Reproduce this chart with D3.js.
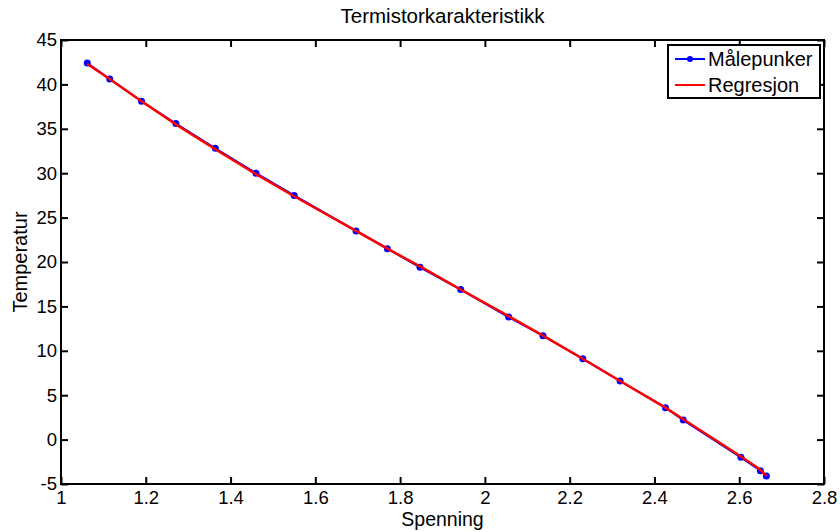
<!DOCTYPE html>
<html>
<head>
<meta charset="utf-8">
<script src="https://cdn.jsdelivr.net/npm/d3@7"></script>
<style>
  body { margin: 0; background: #fff; }
  text { font-family: "Liberation Sans", Arial, sans-serif; }
</style>
</head>
<body>
<svg id="chart" width="840" height="532"></svg>
<script>
// målepunkter (spenning, temperatur)
const spenning = [1.062, 1.115, 1.190, 1.271, 1.364, 1.460, 1.550, 1.696, 1.770, 1.847,
  1.943, 2.056, 2.137, 2.231, 2.319, 2.426, 2.468, 2.604, 2.650, 2.664];
const temperatur = [42.4, 40.6, 38.1, 35.6, 32.8, 30.0, 27.5, 23.5, 21.5, 19.4,
  16.9, 13.8, 11.7, 9.1, 6.6, 3.6, 2.2, -2.0, -3.5, -4.1];
// regresjon evaluert i samme punkter
const regresjon = [42.3, 40.6, 38.1, 35.5, 32.7, 29.9, 27.4, 23.5, 21.5, 19.5,
  16.9, 13.9, 11.7, 9.1, 6.6, 3.6, 2.3, -1.9, -3.4, -4.1];

const xTicks = [1, 1.2, 1.4, 1.6, 1.8, 2, 2.2, 2.4, 2.6, 2.8];
const yTicks = [-5, 0, 5, 10, 15, 20, 25, 30, 35, 40, 45];

const margin = { left: 61, right: 16, top: 40, bottom: 48 };
const width = 840, height = 532;

const svg = d3.select('#chart');

const x = d3.scaleLinear().domain([1, 2.8]).range([margin.left, width - margin.right]);
const y = d3.scaleLinear().domain([-5, 45]).range([height - margin.bottom, margin.top]);

const fmt = d => String(d);
const tickLen = 7;

// akser med innvendige streker
svg.append('g')
  .attr('transform', `translate(0,${y(-5)})`)
  .call(d3.axisBottom(x).tickValues(xTicks).tickFormat(fmt).tickSizeInner(-tickLen).tickSizeOuter(0).tickPadding(7))
  .call(g => g.select('.domain').remove());

svg.append('g')
  .attr('transform', `translate(${x(1)},0)`)
  .call(d3.axisLeft(y).tickValues(yTicks).tickFormat(fmt).tickSizeInner(-tickLen).tickSizeOuter(0).tickPadding(4))
  .call(g => g.select('.domain').remove());

svg.append('g')
  .attr('transform', `translate(0,${y(45)})`)
  .call(d3.axisTop(x).tickValues(xTicks).tickFormat('').tickSizeInner(-tickLen).tickSizeOuter(0))
  .call(g => g.select('.domain').remove());

svg.append('g')
  .attr('transform', `translate(${x(2.8)},0)`)
  .call(d3.axisRight(y).tickValues(yTicks).tickFormat('').tickSizeInner(-tickLen).tickSizeOuter(0))
  .call(g => g.select('.domain').remove());

svg.selectAll('.tick line').attr('stroke', '#000').attr('stroke-width', 2);
svg.selectAll('.tick text').attr('font-size', 18.5).attr('fill', '#000');

// ramme
svg.append('rect')
  .attr('x', x(1)).attr('y', y(45))
  .attr('width', x(2.8) - x(1)).attr('height', y(-5) - y(45))
  .attr('fill', 'none').attr('stroke', '#000').attr('stroke-width', 2);

const pts = spenning.map((s, i) => ({ s, t: temperatur[i], r: regresjon[i] }));

// målepunkter
svg.append('path')
  .datum(pts)
  .attr('fill', 'none').attr('stroke', '#0000ff').attr('stroke-width', 2)
  .attr('d', d3.line().x(d => x(d.s)).y(d => y(d.t)));

svg.append('g').selectAll('circle')
  .data(pts).join('circle')
  .attr('cx', d => x(d.s)).attr('cy', d => y(d.t))
  .attr('r', 3.5).attr('fill', '#0000ff');

// regresjonslinje
svg.append('path')
  .datum(pts)
  .attr('fill', 'none').attr('stroke', '#ff0000').attr('stroke-width', 2.5)
  .attr('d', d3.line().x(d => x(d.s)).y(d => y(d.r)));

// titler
svg.append('text')
  .attr('x', (x(1) + x(2.8)) / 2).attr('y', 23)
  .attr('text-anchor', 'middle').attr('font-size', 20.5)
  .text('Termistorkarakteristikk');

svg.append('text')
  .attr('x', (x(1) + x(2.8)) / 2).attr('y', 526)
  .attr('text-anchor', 'middle').attr('font-size', 19.5)
  .text('Spenning');

svg.append('text')
  .attr('transform', `translate(27,${(y(-5) + y(45)) / 2}) rotate(-90)`)
  .attr('text-anchor', 'middle').attr('font-size', 20)
  .text('Temperatur');

// legende
const leg = svg.append('g').attr('transform', 'translate(668,45)');
leg.append('rect')
  .attr('width', 152).attr('height', 53)
  .attr('fill', '#fff').attr('stroke', '#000').attr('stroke-width', 2);

const legItems = [
  { label: 'Målepunker', color: '#0000ff', marker: true },
  { label: 'Regresjon', color: '#ff0000', marker: false }
];
legItems.forEach((d, i) => {
  const cy = 14 + i * 26;
  leg.append('line')
    .attr('x1', 7).attr('x2', 37).attr('y1', cy).attr('y2', cy)
    .attr('stroke', d.color).attr('stroke-width', 2);
  if (d.marker) {
    leg.append('circle').attr('cx', 22).attr('cy', cy).attr('r', 3).attr('fill', d.color);
  }
  leg.append('text')
    .attr('x', 40).attr('y', cy + 7)
    .attr('font-size', 20)
    .text(d.label);
});
</script>
</body>
</html>
